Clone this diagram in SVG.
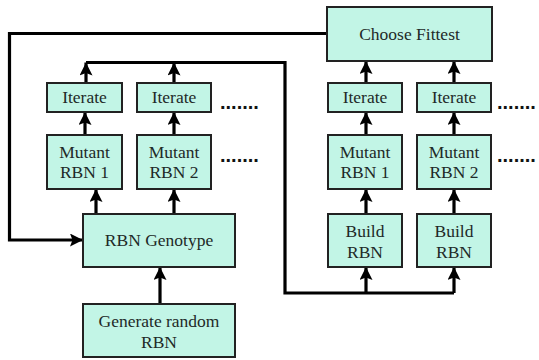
<svg xmlns="http://www.w3.org/2000/svg" width="539" height="360" viewBox="0 0 539 360">
<style>
.box{fill:#c2f5e6;stroke:#222;stroke-width:2}
.t{font-family:'Liberation Serif','Times New Roman','DejaVu Serif',serif;font-size:17.5px;fill:#1e2a28;text-anchor:middle}
.dots{font-family:'Liberation Sans',Arial,sans-serif;font-weight:bold;font-size:20px;fill:#111}
.c{fill:none;stroke:#000;stroke-width:3.2}
.a{marker-end:url(#ah)}
</style>
<defs>
<marker id="ah" markerUnits="userSpaceOnUse" markerWidth="13" markerHeight="13" viewBox="0 0 13 13" refX="13" refY="6.5" orient="auto">
<path d="M0,0 L13,6.5 L0,13 L2.5,6.5 z" fill="#000"/>
</marker>
</defs>
<rect width="539" height="360" fill="#fff"/>
<g id="connectors">
<path class="c a" d="M327,33.5 H9.5 V240 H83"/>
<path class="c" d="M86,62.5 H285 V293 H454"/>
<path class="c a" d="M86,83 V62.5"/>
<path class="c a" d="M174,83 V62.5"/>
<path class="c a" d="M85,135 V112"/>
<path class="c a" d="M174,135 V112"/>
<path class="c a" d="M96,214 V189"/>
<path class="c a" d="M174,214 V189"/>
<path class="c a" d="M160,304 V267"/>
<path class="c a" d="M366,293 V267"/>
<path class="c a" d="M454,293 V267"/>
<path class="c a" d="M366,214 V189"/>
<path class="c a" d="M454,214 V189"/>
<path class="c a" d="M366,135 V112"/>
<path class="c a" d="M454,135 V112"/>
<path class="c a" d="M366,83 V61"/>
<path class="c a" d="M454,83 V61"/>
</g>
<g id="choose-fittest"><rect class="box" x="327" y="7" width="165" height="54"/><text class="t" x="409.5" y="40">Choose Fittest</text></g>
<g id="iterate-l1"><rect class="box" x="47" y="83" width="75" height="29"/><text class="t" x="84.5" y="103">Iterate</text></g>
<g id="iterate-l2"><rect class="box" x="137" y="83" width="74" height="29"/><text class="t" x="174" y="103">Iterate</text></g>
<g id="mutant-l1"><rect class="box" x="47" y="135" width="75" height="54"/><text class="t" x="84.5" y="158">Mutant</text><text class="t" x="84.5" y="178">RBN 1</text></g>
<g id="mutant-l2"><rect class="box" x="137" y="135" width="74" height="54"/><text class="t" x="174" y="158">Mutant</text><text class="t" x="174" y="178">RBN 2</text></g>
<g id="rbn-genotype"><rect class="box" x="83" y="214" width="152" height="53"/><text class="t" x="159" y="246">RBN Genotype</text></g>
<g id="generate-random"><rect class="box" x="83" y="304" width="152" height="53"/><text class="t" x="159" y="327">Generate random</text><text class="t" x="159" y="348">RBN</text></g>
<g id="iterate-r1"><rect class="box" x="328" y="83" width="74" height="29"/><text class="t" x="365" y="103">Iterate</text></g>
<g id="iterate-r2"><rect class="box" x="417" y="83" width="74" height="29"/><text class="t" x="454" y="103">Iterate</text></g>
<g id="mutant-r1"><rect class="box" x="328" y="135" width="74" height="54"/><text class="t" x="365" y="158">Mutant</text><text class="t" x="365" y="178">RBN 1</text></g>
<g id="mutant-r2"><rect class="box" x="417" y="135" width="74" height="54"/><text class="t" x="454" y="158">Mutant</text><text class="t" x="454" y="178">RBN 2</text></g>
<g id="build-r1"><rect class="box" x="328" y="214" width="74" height="53"/><text class="t" x="365" y="237">Build</text><text class="t" x="365" y="258">RBN</text></g>
<g id="build-r2"><rect class="box" x="417" y="214" width="74" height="53"/><text class="t" x="454" y="237">Build</text><text class="t" x="454" y="258">RBN</text></g>
<g id="dots">
<text class="dots" x="220" y="109">.......</text>
<text class="dots" x="220" y="162">.......</text>
<text class="dots" x="497" y="109">.......</text>
<text class="dots" x="497" y="162">.......</text>
</g>
</svg>
